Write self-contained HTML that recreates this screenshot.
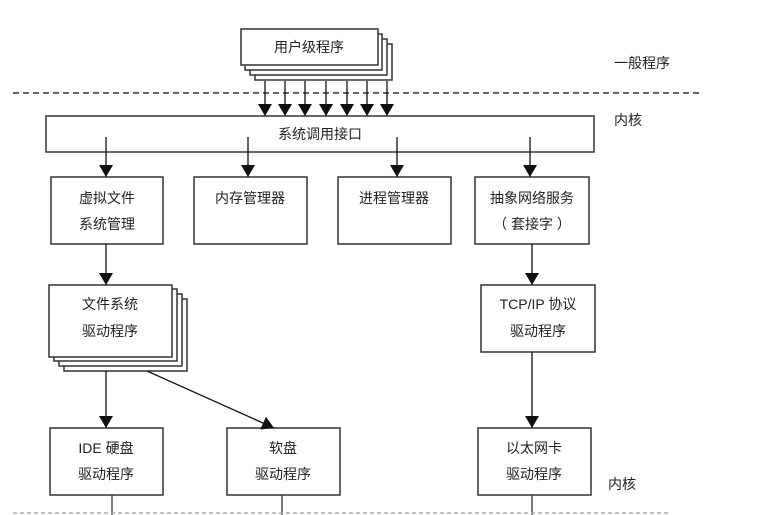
<!DOCTYPE html>
<html><head><meta charset="utf-8"><style>
html,body{margin:0;padding:0;background:#fff;}
svg{display:block;}
text{font-family:"Liberation Sans","Noto Sans CJK SC",sans-serif;font-size:14px;fill:#222;}
</style></head><body>
<svg width="781" height="515" viewBox="0 0 781 515" xmlns="http://www.w3.org/2000/svg">
<defs><marker id="a" markerWidth="10" markerHeight="10" refX="9" refY="5" orient="auto" markerUnits="userSpaceOnUse"><path d="M0,0 L10,5 L0,10 z" fill="#111"/></marker>
<marker id="b" viewBox="0 0 12 14" markerWidth="12" markerHeight="14" refX="12" refY="7" orient="auto" markerUnits="userSpaceOnUse"><path d="M0,0 L12,7 L0,14 z" fill="#111"/></marker></defs>
<g stroke="#333" stroke-width="1.5" fill="#fff">
<!-- user stack -->
<rect x="255" y="44" width="137" height="36"/>
<rect x="250" y="39" width="137" height="36"/>
<rect x="245" y="34" width="137" height="36"/>
<rect x="241" y="29" width="137" height="36"/>
</g>
<text x="309" y="52" text-anchor="middle">用户级程序</text>
<line x1="13" y1="93" x2="700" y2="93" stroke="#333" stroke-width="1.5" stroke-dasharray="6,4"/>
<g stroke="#111" stroke-width="1.3" marker-end="url(#b)">
<line x1="265" y1="81" x2="265" y2="116"/><line x1="285" y1="81" x2="285" y2="116"/>
<line x1="305" y1="81" x2="305" y2="116"/><line x1="326" y1="81" x2="326" y2="116"/>
<line x1="347" y1="81" x2="347" y2="116"/><line x1="367" y1="81" x2="367" y2="116"/>
<line x1="387" y1="81" x2="387" y2="116"/>
</g>
<g stroke="#333" stroke-width="1.5" fill="#fff">
<rect x="46" y="116" width="548" height="36"/>
<rect x="51" y="177" width="112" height="67"/>
<rect x="194" y="177" width="113" height="67"/>
<rect x="338" y="177" width="113" height="67"/>
<rect x="475" y="177" width="114" height="67"/>
<rect x="64" y="299" width="123" height="72"/>
<rect x="59" y="294" width="123" height="72"/>
<rect x="54" y="289" width="123" height="72"/>
<rect x="49" y="285" width="123" height="72"/>
<rect x="481" y="285" width="114" height="67"/>
<rect x="50" y="428" width="113" height="67"/>
<rect x="227" y="428" width="113" height="67"/>
<rect x="478" y="428" width="113" height="67"/>
</g>
<text x="320" y="139" text-anchor="middle">系统调用接口</text>
<g stroke="#111" stroke-width="1.3" marker-end="url(#b)" fill="none">
<line x1="106" y1="137" x2="106" y2="177"/>
<line x1="248" y1="137" x2="248" y2="177"/>
<line x1="397" y1="137" x2="397" y2="177"/>
<line x1="530" y1="137" x2="530" y2="177"/>
<line x1="106" y1="244" x2="106" y2="285"/>
<line x1="532" y1="244" x2="532" y2="285"/>
<line x1="532" y1="352" x2="532" y2="428"/>
<line x1="106" y1="371" x2="106" y2="428"/>
<line x1="147" y1="371" x2="274" y2="428"/>
</g>
<g stroke="#333" stroke-width="1.3">
<line x1="112" y1="495" x2="112" y2="515"/>
<line x1="282" y1="495" x2="282" y2="515"/>
<line x1="532" y1="495" x2="532" y2="515"/>
</g>
<line x1="13" y1="513" x2="670" y2="513" stroke="#aaa" stroke-width="1.5" stroke-dasharray="4,3"/>
<text x="107" y="203" text-anchor="middle">虚拟文件</text>
<text x="107" y="229" text-anchor="middle">系统管理</text>
<text x="250" y="203" text-anchor="middle">内存管理器</text>
<text x="394" y="203" text-anchor="middle">进程管理器</text>
<text x="532" y="203" text-anchor="middle">抽象网络服务</text>
<text x="532" y="229" text-anchor="middle">（ 套接字 ）</text>
<text x="110" y="309" text-anchor="middle">文件系统</text>
<text x="110" y="336" text-anchor="middle">驱动程序</text>
<text x="538" y="309" text-anchor="middle">TCP/IP 协议</text>
<text x="538" y="336" text-anchor="middle">驱动程序</text>
<text x="106" y="453" text-anchor="middle">IDE 硬盘</text>
<text x="106" y="479" text-anchor="middle">驱动程序</text>
<text x="283" y="453" text-anchor="middle">软盘</text>
<text x="283" y="479" text-anchor="middle">驱动程序</text>
<text x="534" y="453" text-anchor="middle">以太网卡</text>
<text x="534" y="479" text-anchor="middle">驱动程序</text>
<text x="614" y="68">一般程序</text>
<text x="614" y="125">内核</text>
<text x="608" y="489">内核</text>
</svg>
</body></html>
